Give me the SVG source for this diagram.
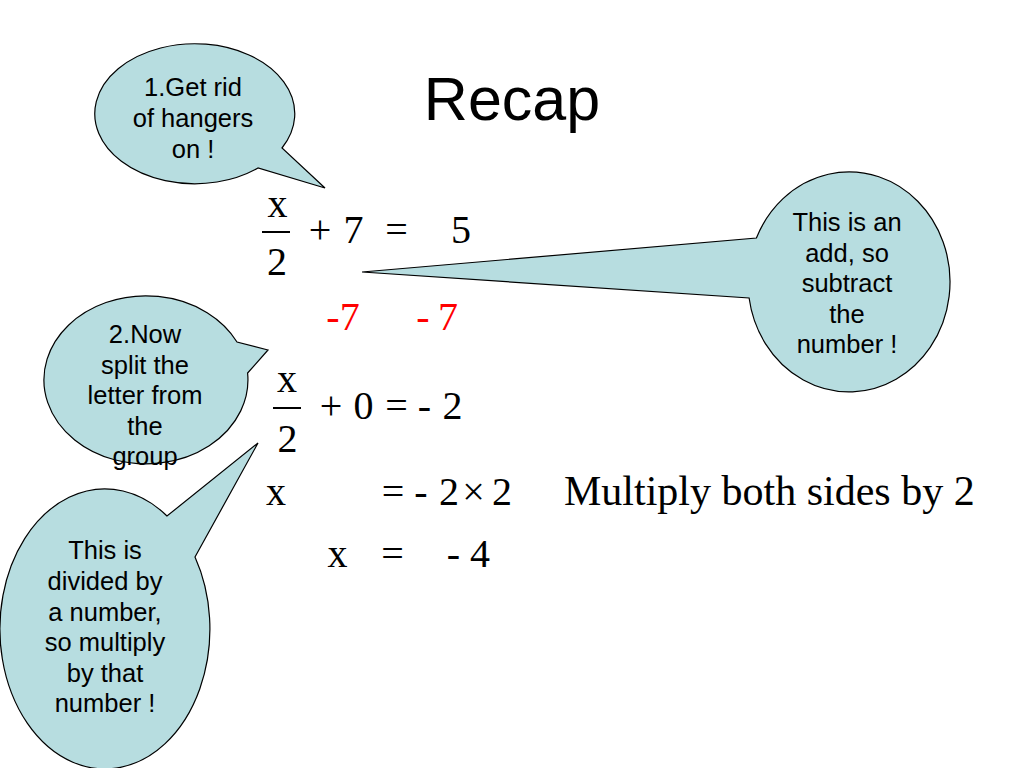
<svg xmlns="http://www.w3.org/2000/svg" width="1024" height="768" viewBox="0 0 1024 768">
<style>
.bubble{fill:#B7DDE0;stroke:#000;stroke-width:1.2}
.ct{font-family:"Liberation Sans",Arial,sans-serif;font-size:25.5px;fill:#000;text-anchor:middle}
.m{font-family:"Liberation Serif","Times New Roman",serif;font-size:40px;fill:#000;text-anchor:middle}
.red{fill:#FF0000}
.bar{stroke:#000;stroke-width:2}
</style>
<rect width="1024" height="768" fill="#fff"/>
<g id="title">
<text x="512" y="120" font-family="Liberation Sans,Arial,sans-serif" font-size="61" text-anchor="middle">Recap</text>
</g>
<g id="callout-1">
<path class="bubble" d="M 258,168 A 100 70 0 1 1 282,148 L 325,188 Z"/>
<text class="ct" x="193" y="96">1.Get rid</text>
<text class="ct" x="193" y="127">of hangers</text>
<text class="ct" x="193" y="158">on !</text>
</g>
<g id="callout-add">
<path class="bubble" d="M 756.4,238 A 101 110 0 1 1 749.1,298 L 362,272 Z"/>
<text class="ct" x="847" y="231">This is an</text>
<text class="ct" x="847" y="262">add, so</text>
<text class="ct" x="847" y="292">subtract</text>
<text class="ct" x="847" y="323">the</text>
<text class="ct" x="847" y="353">number !</text>
</g>
<g id="callout-2">
<path class="bubble" d="M 247.6,373 A 102 84 0 1 1 237,342 L 268,350 Z"/>
<text class="ct" x="145" y="343">2.Now</text>
<text class="ct" x="145" y="373.5">split the</text>
<text class="ct" x="145" y="404">letter from</text>
<text class="ct" x="145" y="434.5">the</text>
<text class="ct" x="145" y="465">group</text>
</g>
<g id="callout-divide">
<path class="bubble" d="M 195,557 A 105 140 0 1 1 167,516 L 258,443 Z"/>
<text class="ct" x="105" y="559">This is</text>
<text class="ct" x="105" y="590">divided by</text>
<text class="ct" x="105" y="621">a number,</text>
<text class="ct" x="105" y="651">so multiply</text>
<text class="ct" x="105" y="682">by that</text>
<text class="ct" x="105" y="712">number !</text>
</g>
<g id="equation-1">
<text class="m" x="277.5" y="217">x</text>
<line class="bar" x1="262" y1="232" x2="290" y2="232"/>
<text class="m" x="277" y="275">2</text>
<text class="m" x="320" y="243">+</text>
<text class="m" x="353.5" y="243">7</text>
<text class="m" x="396.5" y="243">=</text>
<text class="m" x="461" y="243">5</text>
</g>
<g id="subtract-row">
<text class="m red" x="343" y="330">-7</text>
<text class="m red" x="423" y="330">-</text>
<text class="m red" x="448" y="330">7</text>
</g>
<g id="equation-2">
<text class="m" x="287" y="392">x</text>
<line class="bar" x1="273" y1="408" x2="301" y2="408"/>
<text class="m" x="287.5" y="452">2</text>
<text class="m" x="331" y="419">+</text>
<text class="m" x="363.5" y="419">0</text>
<text class="m" x="396.5" y="419">=</text>
<text class="m" x="424.5" y="419">-</text>
<text class="m" x="452.5" y="419">2</text>
</g>
<g id="equation-3">
<text class="m" x="276" y="505">x</text>
<text class="m" x="393" y="505">=</text>
<text class="m" x="421" y="505">-</text>
<text class="m" x="449" y="505">2</text>
<text class="m" x="473.5" y="505">×</text>
<text class="m" x="502" y="505">2</text>
<text x="564" y="505" font-family="Liberation Serif,Times New Roman,serif" font-size="42">Multiply both sides by 2</text>
</g>
<g id="equation-4">
<text class="m" x="337.5" y="567">x</text>
<text class="m" x="392.5" y="567">=</text>
<text class="m" x="453.5" y="567">-</text>
<text class="m" x="480" y="567">4</text>
</g>
</svg>
